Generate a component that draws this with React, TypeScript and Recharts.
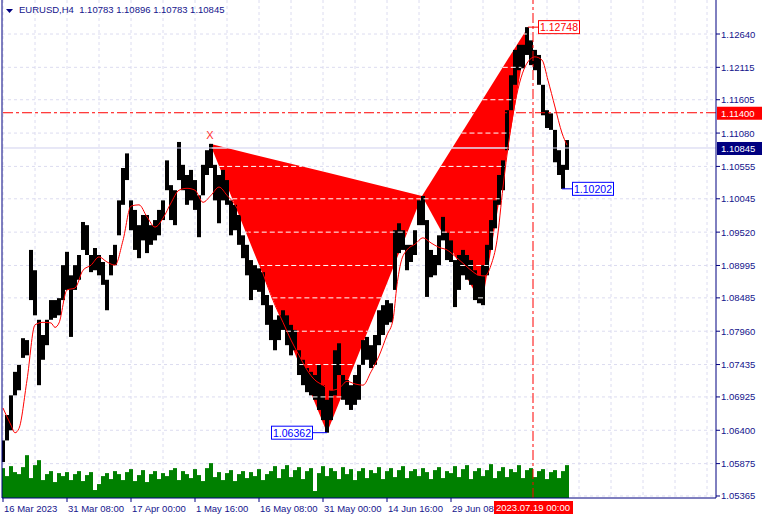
import React from 'react';
import {
  ComposedChart,
  Bar,
  Area,
  Line,
  XAxis,
  YAxis,
  CartesianGrid,
  ReferenceLine,
  ReferenceDot,
} from 'recharts';

const FONT = '"Liberation Sans", Arial, sans-serif';
const NAVY = '#000080';
const INK = '#14148c';
const GRID = '#dcdcf0';
const RED = '#ff0000';
const BLUE = '#0000ff';

// H4 bars sampled every 4 bars (bar index = i * 4)
const highs = [
  1.0624, 1.0664, 1.0695, 1.0732, 1.0743, 1.0785, 1.0782, 1.0924, 1.0892, 1.0814,
  1.0790, 1.0814, 1.0845, 1.0845, 1.0848, 1.0900, 1.0921, 1.0884, 1.0900, 1.0916,
  1.0968, 1.0963, 1.0916, 1.0927, 1.0916, 1.0905, 1.0877, 1.0916, 1.0932, 1.1002,
  1.1053, 1.1076, 1.1002, 1.0987, 1.0963, 1.0979, 1.0979, 1.0963, 1.0971, 1.0987,
  1.1002, 1.1065, 1.1026, 1.1018, 1.1094, 1.1058, 1.1042, 1.1050, 1.1034, 1.1010,
  1.1058, 1.1081, 1.1091, 1.1058, 1.1042, 1.1050, 1.1034, 1.1002, 1.0995, 1.0979,
  1.0947, 1.0932, 1.0908, 1.0900, 1.0895, 1.0889, 1.0853, 1.0837, 1.0814, 1.0821,
  1.0829, 1.0821, 1.0806, 1.0798, 1.0766, 1.0751, 1.0738, 1.0732, 1.0727, 1.0743,
  1.0711, 1.0688, 1.0703, 1.0766, 1.0777, 1.0727, 1.0719, 1.0711, 1.0727, 1.0743,
  1.0782, 1.0787, 1.0774, 1.0790, 1.0829, 1.0837, 1.0845, 1.0840, 1.0955, 1.0966,
  1.0955, 1.0932, 1.0932, 1.0955, 1.1002, 1.1009, 1.0971, 1.0924, 1.0916, 1.0947,
  1.0976, 1.0951, 1.0939, 1.0908, 1.0916, 1.0924, 1.0916, 1.0908, 1.0892, 1.0884,
  1.0900, 1.0932, 1.0971, 1.1002, 1.1042, 1.1065, 1.1144, 1.1199, 1.1239, 1.1247,
  1.1247, 1.12748, 1.1254, 1.1239, 1.1231, 1.1184, 1.1144, 1.1139, 1.1113, 1.1081,
  1.1058, 1.1097,
];

const lows = [
  1.0590, 1.0624, 1.0640, 1.0695, 1.0703, 1.0754, 1.0758, 1.0845, 1.0821, 1.0711,
  1.0751, 1.0774, 1.0814, 1.0817, 1.0821, 1.0845, 1.0861, 1.0787, 1.0861, 1.0877,
  1.0924, 1.0916, 1.0889, 1.0892, 1.0884, 1.0869, 1.0829, 1.0884, 1.0900, 1.0947,
  1.0995, 1.1034, 1.0955, 1.0924, 1.0911, 1.0939, 1.0919, 1.0932, 1.0939, 1.0947,
  1.0971, 1.1018, 1.0971, 1.0963, 1.1034, 1.1018, 1.0995, 1.1002, 1.0987, 1.0944,
  1.1010, 1.1042, 1.1053, 1.1002, 1.0966, 1.1002, 1.0995, 1.0947, 1.0955, 1.0932,
  1.0911, 1.0884, 1.0845, 1.0861, 1.0858, 1.0837, 1.0806, 1.0782, 1.0766, 1.0782,
  1.0798, 1.0774, 1.0758, 1.0766, 1.0727, 1.0711, 1.0700, 1.0695, 1.0688, 1.0672,
  1.0656, 1.06362, 1.0656, 1.0695, 1.0727, 1.0688, 1.0680, 1.0672, 1.0680, 1.0688,
  1.0743, 1.0751, 1.0738, 1.0743, 1.0774, 1.0790, 1.0806, 1.0810, 1.0861, 1.0919,
  1.0924, 1.0892, 1.0905, 1.0916, 1.0963, 1.0963, 1.0850, 1.0881, 1.0884, 1.0900,
  1.0939, 1.0908, 1.0905, 1.0834, 1.0861, 1.0884, 1.0877, 1.0869, 1.0845, 1.0840,
  1.0837, 1.0884, 1.0924, 1.0958, 1.0995, 1.1018, 1.1081, 1.1144, 1.1184, 1.1207,
  1.1210, 1.1231, 1.1215, 1.1207, 1.1184, 1.1136, 1.1116, 1.1113, 1.1062, 1.1042,
  1.10202, 1.1050,
];

const volumes = [
  3000, 2200, 3200, 2600, 2400, 3100, 4300, 2000, 3300, 3800,
  1800, 2400, 2700, 1600, 2500, 2200, 2600, 1800, 2400, 2700,
  1700, 2300, 2600, 800, 1400, 2200, 2500, 1900, 2700, 2400,
  1800, 2600, 2900, 1700, 2300, 2800, 1600, 2400, 2700, 1900,
  2500, 2200, 2800, 3000, 1800, 2700, 2400, 2000, 2900, 2300,
  1700, 3000, 3500, 2100, 2600, 1800, 2500, 2800, 1700, 2400,
  2700, 2000, 2600, 2200, 2900, 1800, 2400, 2700, 3200, 2000,
  2900, 3300, 2100, 2800, 3100, 1900, 2700, 3000, 700, 2500,
  3200, 2200, 3000, 2700, 1900, 3100, 2400, 2900, 1800, 2700,
  3000, 2000, 2800, 2500, 3100, 1900, 2700, 3000, 2100, 2800,
  3200, 2000, 2700, 2900, 2200, 3000, 2600, 1900, 2800, 3100,
  2000, 2700, 2500, 3200, 2100, 2900, 3300, 1900, 2700, 3000,
  2200, 2800, 3400, 2000, 2700, 3100, 2100, 2900, 2600, 3300,
  2000, 2800, 3000, 2100, 2700, 2900, 1900, 2600, 2800, 2000,
  2700, 3300,
];

// moving average (red line)
const maBars = [
  0, 8, 12, 16, 24, 32, 40, 48, 52, 56, 64, 72, 80, 88, 96, 104, 112, 120, 128, 136,
  144, 152, 160, 168, 176, 184, 192, 200, 208, 216, 224, 232, 240, 248, 256, 264, 272,
  280, 288, 296, 304, 312, 320, 328, 336, 344, 352, 360, 368, 376, 384, 390, 394, 398,
  404, 412, 420, 428, 436, 444, 452, 460, 468, 476, 482, 488, 494, 500, 506, 512, 518,
  524, 532, 539, 545, 552, 559, 564,
];
const maValues = [
  1.0675, 1.0648, 1.0636, 1.0643, 1.0719, 1.0806, 1.0810, 1.0809, 1.0802, 1.0809,
  1.0861, 1.0864, 1.0892, 1.0900, 1.0913, 1.0905, 1.0900, 1.0939, 1.0993, 1.0995,
  1.0976, 1.0960, 1.0974, 1.0998, 1.1018, 1.1021, 1.1018, 1.0999, 1.1010, 1.1023,
  1.1010, 1.0995, 1.0971, 1.0939, 1.0905, 1.0869, 1.0837, 1.0810, 1.0782, 1.0758,
  1.0735, 1.0719, 1.0711, 1.0703, 1.0706, 1.0717, 1.0713, 1.0711, 1.0732, 1.0757,
  1.0790, 1.0814, 1.0869, 1.0905, 1.0924, 1.0933, 1.0943, 1.0935, 1.0928, 1.0924,
  1.0914, 1.0903, 1.0892, 1.0884, 1.0883, 1.0900, 1.0939, 1.1023, 1.1097, 1.1155,
  1.1195, 1.1218, 1.1228, 1.1223, 1.1191, 1.1149, 1.1108, 1.1089,
];

// harmonic pattern X, A, B, C, D
const patternBars = [207, 324, 419, 479, 525];
const patternPrices = [1.1091, 1.06362, 1.1009, 1.0837, 1.12748];

const priceTicks = [
  1.05365, 1.05875, 1.064, 1.06925, 1.07435, 1.0796, 1.08485, 1.08995,
  1.0952, 1.10045, 1.10555, 1.1108, 1.11605, 1.12115, 1.1264,
];
const levelPrice = 1.114;
const currentPrice = 1.10845;

const timeTicks = [
  0, 32, 64, 96, 128, 160, 192, 224, 256, 288, 320, 352, 384, 416, 448, 480, 512,
  544, 576, 608, 640, 672, 704,
];
const timeLabels: Record<number, string> = {
  0: '16 Mar 2023',
  64: '31 Mar 08:00',
  128: '17 Apr 00:00',
  192: '1 May 16:00',
  256: '16 May 08:00',
  320: '31 May 00:00',
  384: '14 Jun 16:00',
  448: '29 Jun 08:00',
};
const cursorBar = 530;
const cursorLabel = '2023.07.19 00:00';

const notes = [
  { bar: 525, price: 1.12748, text: '1.12748', color: RED, side: 'right' },
  { bar: 559, price: 1.10202, text: '1.10202', color: BLUE, side: 'right' },
  { bar: 324, price: 1.06362, text: '1.06362', color: BLUE, side: 'left' },
];

const bars = highs.map((h, i) => ({ bar: i * 4, hl: [lows[i], h], vol: volumes[i] }));
const maData = maBars.map((b, i) => ({ bar: b, ma: maValues[i] }));

type Pt = { bar: number; price: number };
const pattern: Pt[] = patternBars.map((b, i) => ({ bar: b, price: patternPrices[i] }));

const edgeAt = (a: Pt, c: Pt, bar: number) =>
  a.price + ((bar - a.bar) / (c.bar - a.bar)) * (c.price - a.price);

const triangleArea = (a: Pt, m: Pt, c: Pt) => {
  const e = edgeAt(a, c, m.bar);
  return [
    { bar: a.bar, fill: [a.price, a.price] },
    { bar: m.bar, fill: [Math.min(m.price, e), Math.max(m.price, e)] },
    { bar: c.bar, fill: [c.price, c.price] },
  ];
};

const triangles = [
  [pattern[0], pattern[1], pattern[2]],
  [pattern[2], pattern[3], pattern[4]],
];

// white grid dashes showing through the filled triangles
const crossing = (tri: Pt[], level: number) => {
  const xs: number[] = [];
  for (let i = 0; i < 3; i++) {
    const a = tri[i];
    const b = tri[(i + 1) % 3];
    if (a.price !== b.price && (level - a.price) * (level - b.price) <= 0) {
      xs.push(a.bar + ((level - a.price) / (b.price - a.price)) * (b.bar - a.bar));
    }
  }
  return xs.length < 2 ? null : [Math.min(...xs), Math.max(...xs)];
};

const innerLines: { x1: number; x2: number; level: number; solid: boolean }[] = [];
triangles.forEach((tri) => {
  [...priceTicks, currentPrice].forEach((level) => {
    const seg = crossing(tri, level);
    if (seg && seg[1] - seg[0] > 2) {
      innerLines.push({ x1: seg[0], x2: seg[1], level, solid: level === currentPrice });
    }
  });
});

// bars drawn 4px wide, centred on the bar position the library computes
const barShape = (color: string) => (p: any) => {
  const cx = p.x + p.width / 2;
  const h = Math.max(p.height, 1);
  return <rect x={Math.round(cx) - 2} y={p.y} width={4} height={h} fill={color} />;
};

const PriceTick = (props: any) => {
  const { x, y, payload } = props;
  const v: number = payload.value;
  if (v === levelPrice || v === currentPrice) {
    return (
      <g>
        <rect x={x + 1} y={y - 6} width={45} height={13} fill={v === levelPrice ? RED : NAVY} />
        <text x={x + 5} y={y + 4} fill="#fff" fontSize={9.5} fontFamily={FONT}>
          {v.toFixed(5)}
        </text>
      </g>
    );
  }
  return (
    <g>
      <line x1={x} x2={x + 4} y1={y} y2={y} stroke={NAVY} />
      <text x={x + 5} y={y + 3.5} fill={INK} fontSize={9.5} fontFamily={FONT}>
        {v.toFixed(5)}
      </text>
    </g>
  );
};

const TimeTick = (props: any) => {
  const { x, y, payload } = props;
  const v: number = payload.value;
  if (v === cursorBar) {
    return (
      <g>
        <rect x={x - 39} y={y + 3} width={79} height={13} fill={RED} />
        <text x={x} y={y + 13} fill="#fff" textAnchor="middle" fontSize={9.5} fontFamily={FONT}>
          {cursorLabel}
        </text>
      </g>
    );
  }
  const label = timeLabels[v];
  if (!label) return <g />;
  return (
    <g>
      <line x1={x} x2={x} y1={y} y2={y + 4} stroke={NAVY} />
      <text x={x + 1} y={y + 14} fill={INK} fontSize={9.5} fontFamily={FONT}>
        {label}
      </text>
    </g>
  );
};

const noteShape = (n: (typeof notes)[number]) => (props: any) => {
  const { cx, cy } = props;
  const right = n.side === 'right';
  const bx = right ? cx + 10.5 : cx - 55.5;
  return (
    <g>
      <line x1={cx} x2={right ? cx + 10.5 : cx - 14.5} y1={cy} y2={cy} stroke={n.color} />
      <rect x={bx} y={cy - 6.5} width={41} height={13} fill="#fff" stroke={n.color} />
      <text x={bx + 20.5} y={cy + 4} fill={n.color} textAnchor="middle" fontSize={10.5} fontFamily={FONT}>
        {n.text}
      </text>
    </g>
  );
};

const xLabelShape = (props: any) => {
  const { cx, cy } = props;
  return (
    <text x={cx} y={cy - 5} fill="#ff3030" textAnchor="middle" fontSize={11} fontFamily={FONT}>
      X
    </text>
  );
};

export default function App() {
  return (
    <div style={{ position: 'absolute', left: 0, top: 0, width: 763, height: 520, background: '#fff' }}>
      <svg width={14} height={14} style={{ position: 'absolute', left: 5, top: 4 }}>
        <polygon points="1,5 8,5 4.5,9" fill={NAVY} />
      </svg>
      <div
        style={{
          position: 'absolute',
          left: 19,
          top: 4,
          fontFamily: FONT,
          fontSize: 9.5,
          lineHeight: '12px',
          color: INK,
          whiteSpace: 'pre',
          zIndex: 2,
        }}
      >
        {'EURUSD,H4  1.10783 1.10896 1.10783 1.10845'}
      </div>
      <ComposedChart width={763} height={520} data={bars} margin={{ top: 0, right: 0, bottom: 0, left: 2 }}>
        <XAxis
          xAxisId="main"
          type="number"
          dataKey="bar"
          domain={[-1, 713]}
          ticks={[...timeTicks, cursorBar]}
          interval={0}
          tick={<TimeTick />}
          tickLine={false}
          tickSize={0}
          tickMargin={0}
          height={22}
          axisLine={{ stroke: NAVY }}
          allowDataOverflow
        />
        <XAxis xAxisId="vol" type="number" dataKey="bar" domain={[-1, 713]} hide allowDataOverflow />
        <YAxis
          yAxisId="price"
          orientation="right"
          width={47}
          domain={[1.053335, 1.131754]}
          ticks={[...priceTicks, currentPrice, levelPrice]}
          interval={0}
          tick={<PriceTick />}
          tickLine={false}
          tickSize={0}
          tickMargin={0}
          axisLine={{ stroke: NAVY }}
          allowDataOverflow
        />
        <YAxis
          yAxisId="vol"
          orientation="left"
          width={0}
          domain={[0, 50000]}
          tick={false}
          tickLine={false}
          axisLine={{ stroke: NAVY }}
          allowDataOverflow
        />
        <CartesianGrid
          xAxisId="main"
          yAxisId="price"
          horizontalValues={priceTicks}
          verticalValues={timeTicks}
          stroke={GRID}
          strokeDasharray="3 3"
        />
        <Bar
          xAxisId="vol"
          yAxisId="vol"
          dataKey="vol"
          fill="#008000"
          barSize={4}
          shape={barShape('#008000')}
          isAnimationActive={false}
        />
        {triangles.map((t, i) => (
          <Area
            key={`tri-${i}`}
            xAxisId="main"
            yAxisId="price"
            data={triangleArea(t[0], t[1], t[2])}
            dataKey="fill"
            type="linear"
            stroke="none"
            fill={RED}
            fillOpacity={1}
            isAnimationActive={false}
          />
        ))}
        {innerLines.map((s, i) => (
          <ReferenceLine
            key={`in-${i}`}
            xAxisId="main"
            yAxisId="price"
            segment={[
              { x: s.x1, y: s.level },
              { x: s.x2, y: s.level },
            ]}
            stroke="#ffffff"
            strokeDasharray={s.solid ? undefined : '5 3'}
          />
        ))}
        <ReferenceLine xAxisId="main" yAxisId="price" y={currentPrice} stroke="#d0d0ee" />
        <ReferenceLine xAxisId="main" yAxisId="price" x={-1} stroke={NAVY} />
        <Line
          xAxisId="main"
          yAxisId="price"
          data={maData}
          dataKey="ma"
          type="monotone"
          stroke={RED}
          strokeWidth={1}
          dot={false}
          isAnimationActive={false}
        />
        <Bar
          xAxisId="main"
          yAxisId="price"
          dataKey="hl"
          fill="#000"
          barSize={4}
          shape={barShape('#000')}
          isAnimationActive={false}
        />
        <ReferenceLine xAxisId="main" yAxisId="price" y={levelPrice} stroke={RED} strokeDasharray="10 3 3 3" />
        <ReferenceLine xAxisId="main" yAxisId="price" x={cursorBar} stroke={RED} strokeDasharray="10 3 3 3" />
        {notes.map((n) => (
          <ReferenceDot
            key={n.text}
            xAxisId="main"
            yAxisId="price"
            x={n.bar}
            y={n.price}
            r={0}
            shape={noteShape(n)}
          />
        ))}
        <ReferenceDot
          xAxisId="main"
          yAxisId="price"
          x={pattern[0].bar}
          y={pattern[0].price}
          r={0}
          shape={xLabelShape}
        />
      </ComposedChart>
    </div>
  );
}
